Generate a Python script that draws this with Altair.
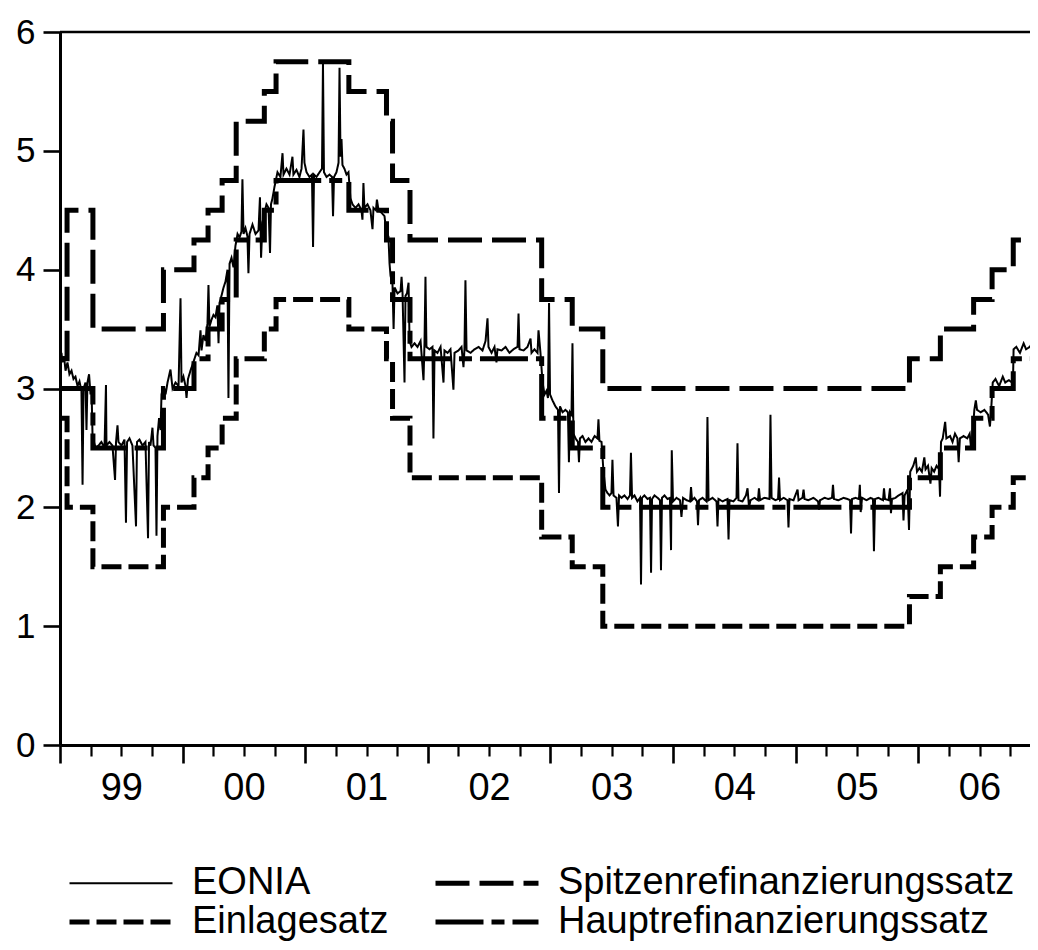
import altair as alt
import pandas as pd

FONT = "Liberation Sans"

# ECB policy rate change dates and levels (in %)
rate_dates = ["1999-01-04", "1999-01-22", "1999-04-09", "1999-11-05", "2000-02-04",
              "2000-03-17", "2000-04-28", "2000-06-09", "2000-09-01", "2000-10-06",
              "2001-05-11", "2001-08-31", "2001-09-18", "2001-11-09", "2002-12-06",
              "2003-03-07", "2003-06-06", "2005-12-06", "2006-03-08", "2006-06-15",
              "2006-08-09", "2006-10-11", "2006-12-13", "2006-12-31"]
spitzen = [3.25, 4.50, 3.50, 4.00, 4.25, 4.50, 4.75, 5.25, 5.50, 5.75, 5.50, 5.25,
           4.75, 4.25, 3.75, 3.50, 3.00, 3.25, 3.50, 3.75, 4.00, 4.25, 4.50, 4.50]
einlage = [2.75, 2.00, 1.50, 2.00, 2.25, 2.50, 2.75, 3.25, 3.50, 3.75, 3.50, 3.25,
           2.75, 2.25, 1.75, 1.50, 1.00, 1.25, 1.50, 1.75, 2.00, 2.25, 2.50, 2.50]
haupt = [3.00, 3.00, 2.50, 3.00, 3.25, 3.50, 3.75, 4.25, 4.50, 4.75, 4.50, 4.25,
         3.75, 3.25, 2.75, 2.50, 2.00, 2.25, 2.50, 2.75, 3.00, 3.25, 3.50, 3.50]

# EONIA (decimal year, %)
eonia_points = [
    (1999.004, 3.20), (1999.012, 3.30), (1999.020, 3.22), (1999.033, 3.27), (1999.045, 3.15),
    (1999.061, 3.22), (1999.077, 3.12), (1999.094, 3.15), (1999.110, 3.08), (1999.126, 3.10),
    (1999.143, 3.02), (1999.159, 3.06), (1999.175, 2.98), (1999.184, 2.19), (1999.192, 3.00),
    (1999.208, 3.05), (1999.216, 2.65), (1999.224, 3.05), (1999.237, 3.12), (1999.249, 2.95),
    (1999.257, 3.00), (1999.265, 2.62), (1999.277, 2.55), (1999.290, 2.50), (1999.314, 2.52),
    (1999.338, 2.55), (1999.363, 2.50), (1999.375, 3.03), (1999.379, 2.52), (1999.404, 2.55),
    (1999.428, 2.52), (1999.449, 2.23), (1999.457, 2.55), (1999.469, 2.69), (1999.477, 2.55),
    (1999.502, 2.52), (1999.526, 2.57), (1999.538, 1.87), (1999.547, 2.55), (1999.567, 2.58),
    (1999.591, 2.52), (1999.620, 1.84), (1999.628, 2.55), (1999.648, 2.57), (1999.673, 2.52),
    (1999.697, 2.55), (1999.718, 1.74), (1999.726, 2.55), (1999.738, 2.52), (1999.754, 2.67),
    (1999.763, 2.52), (1999.779, 2.50), (1999.787, 1.76), (1999.795, 2.60), (1999.808, 2.75),
    (1999.820, 2.65), (1999.828, 2.95), (1999.844, 3.02), (1999.861, 2.95), (1999.877, 3.05),
    (1999.901, 3.16), (1999.918, 3.00), (1999.942, 3.05), (1999.967, 3.02), (1999.983, 3.76),
    (1999.991, 3.05), (2000.007, 3.10), (2000.024, 3.02), (2000.032, 2.92), (2000.044, 3.08),
    (2000.064, 3.15), (2000.081, 3.20), (2000.097, 3.25), (2000.113, 3.30), (2000.130, 3.28),
    (2000.146, 3.49), (2000.154, 3.32), (2000.170, 3.45), (2000.187, 3.40), (2000.203, 3.55),
    (2000.211, 3.87), (2000.219, 3.52), (2000.236, 3.58), (2000.252, 3.62), (2000.268, 3.60),
    (2000.284, 3.70), (2000.293, 3.38), (2000.301, 3.72), (2000.317, 3.78), (2000.334, 3.85),
    (2000.350, 3.90), (2000.366, 4.00), (2000.374, 2.92), (2000.383, 4.05), (2000.399, 4.10),
    (2000.415, 4.02), (2000.431, 4.20), (2000.448, 4.30), (2000.464, 4.27), (2000.480, 4.32),
    (2000.488, 4.76), (2000.497, 4.30), (2000.513, 4.35), (2000.529, 4.28), (2000.537, 3.97),
    (2000.546, 4.30), (2000.570, 4.38), (2000.595, 4.30), (2000.619, 4.33), (2000.631, 4.61),
    (2000.640, 4.10), (2000.652, 4.40), (2000.668, 4.48), (2000.684, 4.55), (2000.701, 4.52),
    (2000.713, 4.14), (2000.721, 4.55), (2000.733, 4.60), (2000.750, 4.70), (2000.774, 4.82),
    (2000.798, 4.78), (2000.815, 4.98), (2000.823, 4.80), (2000.847, 4.85), (2000.872, 4.80),
    (2000.896, 4.95), (2000.904, 4.80), (2000.929, 4.84), (2000.953, 4.78), (2000.970, 4.85),
    (2000.986, 5.18), (2000.994, 4.90), (2001.011, 4.82), (2001.035, 4.78), (2001.055, 4.80),
    (2001.064, 4.19), (2001.072, 4.80), (2001.092, 4.78), (2001.117, 4.82), (2001.137, 4.85),
    (2001.145, 5.74), (2001.153, 4.82), (2001.174, 4.78), (2001.198, 4.80), (2001.219, 4.78),
    (2001.227, 4.45), (2001.235, 4.78), (2001.255, 4.82), (2001.272, 4.90), (2001.280, 5.70),
    (2001.288, 4.95), (2001.296, 5.10), (2001.304, 4.88), (2001.320, 4.85), (2001.337, 4.80),
    (2001.353, 4.82), (2001.369, 4.60), (2001.386, 4.55), (2001.410, 4.52), (2001.435, 4.55),
    (2001.459, 4.50), (2001.467, 4.42), (2001.475, 4.73), (2001.483, 4.52), (2001.508, 4.55),
    (2001.532, 4.50), (2001.549, 4.34), (2001.557, 4.52), (2001.577, 4.50), (2001.585, 4.59),
    (2001.598, 4.50), (2001.622, 4.48), (2001.647, 4.45), (2001.663, 4.30), (2001.679, 4.28),
    (2001.688, 4.05), (2001.696, 3.95), (2001.712, 3.88), (2001.721, 3.50), (2001.729, 3.85),
    (2001.753, 3.80), (2001.778, 3.82), (2001.786, 3.94), (2001.794, 3.80), (2001.810, 3.05),
    (2001.818, 3.78), (2001.830, 3.80), (2001.843, 3.89), (2001.851, 3.40), (2001.867, 3.35),
    (2001.892, 3.38), (2001.916, 3.35), (2001.941, 3.40), (2001.965, 3.07), (2001.973, 3.38),
    (2001.981, 3.94), (2001.989, 3.35), (2002.014, 3.33), (2002.038, 3.35), (2002.046, 2.58),
    (2002.055, 3.32), (2002.079, 3.30), (2002.104, 3.35), (2002.128, 3.05), (2002.136, 3.32),
    (2002.161, 3.30), (2002.185, 3.33), (2002.209, 2.99), (2002.218, 3.30), (2002.250, 3.32),
    (2002.275, 3.35), (2002.291, 3.18), (2002.299, 3.33), (2002.307, 3.91), (2002.316, 3.32),
    (2002.348, 3.30), (2002.381, 3.33), (2002.414, 3.35), (2002.446, 3.32), (2002.471, 3.40),
    (2002.487, 3.59), (2002.495, 3.35), (2002.520, 3.30), (2002.544, 3.35), (2002.560, 3.22),
    (2002.568, 3.33), (2002.601, 3.32), (2002.634, 3.35), (2002.666, 3.30), (2002.699, 3.33),
    (2002.732, 3.35), (2002.740, 3.63), (2002.748, 3.33), (2002.781, 3.32), (2002.813, 3.35),
    (2002.838, 3.42), (2002.846, 3.30), (2002.870, 3.33), (2002.895, 3.30), (2002.903, 3.49),
    (2002.919, 3.30), (2002.936, 3.05), (2002.952, 2.95), (2002.968, 2.98), (2002.980, 2.92),
    (2002.989, 3.72), (2002.997, 2.95), (2003.017, 2.90), (2003.041, 2.85), (2003.062, 2.82),
    (2003.070, 2.12), (2003.078, 2.85), (2003.099, 2.80), (2003.123, 2.82), (2003.143, 2.80),
    (2003.151, 2.38), (2003.160, 2.80), (2003.172, 2.78), (2003.180, 3.38), (2003.188, 2.62),
    (2003.205, 2.58), (2003.225, 2.55), (2003.233, 2.38), (2003.241, 2.58), (2003.262, 2.60),
    (2003.286, 2.55), (2003.311, 2.58), (2003.335, 2.55), (2003.360, 2.60), (2003.384, 2.58),
    (2003.392, 2.74), (2003.400, 2.56), (2003.417, 2.55), (2003.433, 2.30), (2003.449, 2.15),
    (2003.466, 2.12), (2003.482, 2.10), (2003.498, 2.12), (2003.506, 2.40), (2003.515, 2.10),
    (2003.539, 2.08), (2003.551, 1.84), (2003.560, 2.10), (2003.580, 2.08), (2003.604, 2.10),
    (2003.629, 2.07), (2003.649, 2.10), (2003.657, 2.46), (2003.666, 2.08), (2003.686, 2.10),
    (2003.710, 2.05), (2003.731, 2.08), (2003.739, 1.35), (2003.747, 2.08), (2003.767, 2.10),
    (2003.792, 2.07), (2003.812, 2.08), (2003.821, 1.45), (2003.829, 2.07), (2003.849, 2.10),
    (2003.874, 2.08), (2003.894, 2.06), (2003.902, 1.47), (2003.910, 2.08), (2003.931, 2.10),
    (2003.955, 2.07), (2003.975, 2.08), (2003.984, 1.64), (2003.990, 2.48), (2004.000, 2.05),
    (2004.029, 2.08), (2004.057, 2.06), (2004.069, 1.92), (2004.082, 2.08), (2004.110, 2.06),
    (2004.139, 2.05), (2004.147, 2.17), (2004.155, 2.06), (2004.175, 2.08), (2004.196, 2.05),
    (2004.204, 1.85), (2004.212, 2.06), (2004.241, 2.08), (2004.273, 2.05), (2004.281, 2.76),
    (2004.290, 2.06), (2004.322, 2.08), (2004.355, 2.05), (2004.363, 1.84), (2004.371, 2.07),
    (2004.404, 2.05), (2004.444, 2.07), (2004.453, 1.73), (2004.461, 2.06), (2004.493, 2.05),
    (2004.518, 2.08), (2004.526, 2.54), (2004.534, 2.06), (2004.567, 2.05), (2004.595, 2.10),
    (2004.608, 2.16), (2004.620, 2.00), (2004.632, 2.06), (2004.665, 2.08), (2004.693, 2.06),
    (2004.701, 2.16), (2004.710, 2.06), (2004.746, 2.08), (2004.787, 2.07), (2004.795, 2.78),
    (2004.804, 2.08), (2004.836, 2.06), (2004.857, 2.07), (2004.865, 2.25), (2004.873, 2.06),
    (2004.901, 2.08), (2004.934, 2.06), (2004.942, 1.83), (2004.950, 2.07), (2004.983, 2.06),
    (2005.016, 2.15), (2005.024, 2.06), (2005.056, 2.08), (2005.065, 2.15), (2005.073, 2.07),
    (2005.105, 2.06), (2005.146, 2.08), (2005.183, 2.05), (2005.191, 1.98), (2005.199, 2.06),
    (2005.236, 2.08), (2005.268, 2.07), (2005.297, 2.08), (2005.305, 2.19), (2005.313, 2.07),
    (2005.350, 2.06), (2005.391, 2.08), (2005.423, 2.07), (2005.444, 2.06), (2005.452, 1.78),
    (2005.460, 2.07), (2005.489, 2.08), (2005.517, 2.07), (2005.524, 2.19), (2005.531, 1.96),
    (2005.542, 2.08), (2005.578, 2.06), (2005.611, 2.08), (2005.631, 2.07), (2005.639, 1.63),
    (2005.648, 2.07), (2005.676, 2.08), (2005.713, 2.06), (2005.721, 2.16), (2005.729, 2.07),
    (2005.758, 2.06), (2005.770, 2.16), (2005.778, 1.95), (2005.786, 2.07), (2005.815, 2.08),
    (2005.839, 2.10), (2005.872, 2.12), (2005.880, 1.89), (2005.889, 2.10), (2005.913, 2.15),
    (2005.925, 1.81), (2005.935, 2.30), (2005.960, 2.35), (2005.980, 2.42), (2005.990, 2.30),
    (2006.010, 2.33), (2006.030, 2.30), (2006.050, 2.42), (2006.060, 2.32), (2006.080, 2.35),
    (2006.100, 2.20), (2006.110, 2.33), (2006.130, 2.30), (2006.150, 2.35), (2006.170, 2.32),
    (2006.178, 2.09), (2006.186, 2.55), (2006.200, 2.58), (2006.220, 2.72), (2006.230, 2.58),
    (2006.260, 2.60), (2006.280, 2.55), (2006.300, 2.62), (2006.320, 2.58), (2006.330, 2.38),
    (2006.340, 2.58), (2006.370, 2.60), (2006.400, 2.58), (2006.420, 2.62), (2006.430, 2.51),
    (2006.440, 2.58), (2006.458, 2.82), (2006.470, 2.90), (2006.480, 2.82), (2006.510, 2.80),
    (2006.540, 2.82), (2006.570, 2.78), (2006.585, 2.68), (2006.595, 2.82), (2006.608, 3.05),
    (2006.630, 3.08), (2006.660, 3.02), (2006.690, 3.10), (2006.710, 3.05), (2006.740, 3.07),
    (2006.765, 3.05), (2006.772, 2.99), (2006.778, 3.33), (2006.800, 3.35), (2006.830, 3.30),
    (2006.860, 3.38), (2006.880, 3.33), (2006.910, 3.35), (2006.940, 3.40), (2006.952, 3.58),
    (2006.970, 3.60), (2006.990, 3.65),
]

# legend is filled column by column: col 1 = EONIA, Einlagesatz; col 2 = Spitzen..., Haupt...
series_order = ["EONIA", "Einlagesatz", "Spitzenrefinanzierungssatz", "Hauptrefinanzierungssatz"]
dash_styles = [[1, 0], [20, 7], [34, 10], [48, 8, 13, 8]]
line_widths = [2, 5, 5, 5]
year_labels = ["99", "00", "01", "02", "03", "04", "05", "06"]
y_ticks = [0, 1, 2, 3, 4, 5, 6]


def dec_year(s):
    d = pd.Timestamp(s)
    n = 366 if d.is_leap_year else 365
    return d.year + (d.dayofyear - 1) / n


t_rates = [dec_year(d) for d in rate_dates]
rate_rows = []
for name, vals in [("Spitzenrefinanzierungssatz", spitzen),
                   ("Einlagesatz", einlage),
                   ("Hauptrefinanzierungssatz", haupt)]:
    for t, v in zip(t_rates, vals):
        rate_rows.append({"t": t, "v": v, "series": name})
rates_df = pd.DataFrame(rate_rows)
eonia_df = pd.DataFrame([{"t": t, "v": v, "series": "EONIA"} for t, v in eonia_points])

PLOT_W = 970
PX_PER_YEAR = 122.6
x_min = 1999.0
x_max = x_min + PLOT_W / PX_PER_YEAR
quarter_ticks = [1999 + 0.25 * i for i in range(32)]

label_map = "{" + ",".join(f"'{1999 + i}':'{lab}'" for i, lab in enumerate(year_labels)) + "}"
label_expr = f"(datum.value % 1 === 0.5) ? {label_map}[toString(floor(datum.value))] : ''"

x_enc = alt.X(
    "t:Q",
    scale=alt.Scale(domain=[x_min, x_max], nice=False, zero=False),
    axis=alt.Axis(
        values=quarter_ticks,
        tickSize={"condition": {"test": "datum.value % 1 === 0", "value": 18}, "value": 11},
        tickWidth={"condition": {"test": "datum.value % 1 === 0", "value": 2.6}, "value": 2.2},
        labelExpr=label_expr,
        labelFont=FONT, labelFontSize=38, labelColor="black",
        labelPadding=13, labelOverlap=False, labelFlush=False, labelAngle=0,
        domainColor="black", domainWidth=3, tickColor="black",
        grid=False, title=None,
    ),
)
y_enc = alt.Y(
    "v:Q",
    scale=alt.Scale(domain=[0, 6], nice=False),
    axis=alt.Axis(
        values=y_ticks, format="d",
        tickSize=17, tickWidth=2.6, tickColor="black",
        labelFont=FONT, labelFontSize=35, labelColor="black", labelPadding=8,
        labelOverlap=False, labelFlush=False,
        domainColor="black", domainWidth=3, grid=False, title=None,
    ),
)

legend = alt.Legend(
    title=None, orient="none", legendX=7, legendY=832.5,
    columns=2, columnPadding=44, rowPadding=0, padding=0,
    symbolType="stroke", symbolSize=103 * 103, symbolStrokeColor="black",
    clipHeight=37, labelOffset=17, labelFont=FONT, labelFontSize=38,
    labelColor="black", labelLimit=0,
)
dash_enc = alt.StrokeDash(
    "series:N",
    scale=alt.Scale(domain=series_order, range=dash_styles),
    legend=legend,
)
width_enc = alt.StrokeWidth(
    "series:N",
    scale=alt.Scale(type="ordinal", domain=series_order, range=line_widths),
    legend=legend,
)

rates = alt.Chart(rates_df).mark_line(
    interpolate="step-after", color="black", clip=True, strokeCap="butt"
).encode(x=x_enc, y=y_enc, strokeDash=dash_enc, strokeWidth=width_enc, detail="series:N")

eonia = alt.Chart(eonia_df).mark_line(
    color="black", clip=True
).encode(x=x_enc, y=y_enc, strokeDash=dash_enc, strokeWidth=width_enc)

frame = alt.Chart(pd.DataFrame({"v": [6]})).mark_rule(color="black", strokeWidth=2.6).encode(
    y=alt.Y("v:Q")
)

chart = alt.layer(rates, eonia, frame).properties(
    width=PLOT_W, height=713,
    padding={"left": 52, "top": 24, "right": 0, "bottom": 197},
    autosize=alt.AutoSizeParams(type="none"),
).configure_view(stroke=None).configure(background="white")

chart.save("out.html", embed_options={"renderer": "svg", "actions": False})
